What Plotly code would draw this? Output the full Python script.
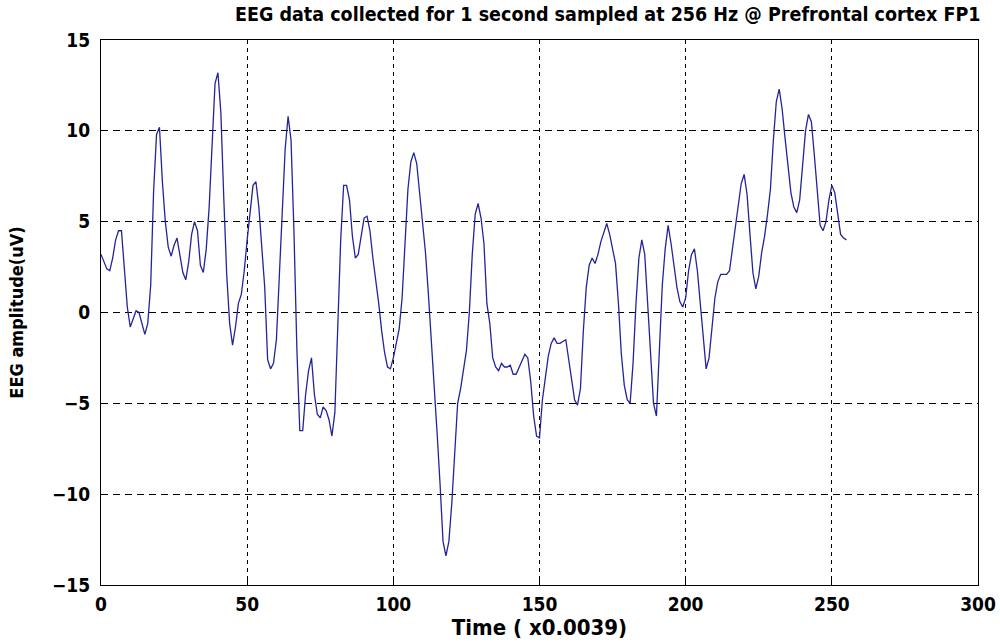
import plotly.graph_objects as go

sample_index = list(range(256))
eeg_uv = [
    3.2, 2.8, 2.4, 2.3, 3.0, 4.0, 4.5, 4.5, 2.5, 0.3,
    -0.8, -0.4, 0.1, 0.0, -0.6, -1.2, -0.6, 1.5, 6.7, 9.8,
    10.2, 7.2, 5.0, 3.6, 3.1, 3.7, 4.1, 3.2, 2.2, 1.8,
    2.8, 4.3, 5.0, 4.5, 2.6, 2.2, 3.5, 5.8, 9.5, 12.6,
    13.2, 11.0, 6.3, 2.1, -0.6, -1.8, -0.8, 0.5, 1.0, 2.3,
    4.0, 5.5, 7.0, 7.2, 5.8, 3.6, 1.4, -2.6, -3.1, -2.8,
    -1.5, 2.0, 5.5, 9.0, 10.8, 9.5, 4.5, -2.0, -6.5, -6.5,
    -4.5, -3.2, -2.5, -4.5, -5.6, -5.8, -5.2, -5.4, -5.9, -6.8,
    -5.5, -1.0, 4.0, 7.0, 7.0, 6.2, 4.2, 3.0, 3.2, 4.2,
    5.2, 5.3, 4.5, 3.0, 1.8, 0.5, -1.0, -2.2, -3.0, -3.1,
    -2.5, -1.7, -0.9, 0.8, 3.5, 6.8, 8.3, 8.8, 8.2, 6.5,
    4.8, 3.3, 1.0, -1.4, -3.9, -6.7, -9.5, -12.6, -13.4, -12.6,
    -10.5, -7.8, -5.0, -4.2, -3.2, -2.1, 0.0, 3.2, 5.4, 6.0,
    5.2, 3.8, 0.5, -0.6, -2.5, -3.0, -3.2, -2.8, -3.0, -3.0,
    -2.9, -3.4, -3.4, -3.0, -2.6, -2.3, -2.5, -3.8, -5.7, -6.8,
    -6.9, -4.8, -3.6, -2.4, -1.7, -1.4, -1.7, -1.7, -1.6, -1.5,
    -2.6, -3.7, -4.8, -5.1, -4.2, -1.0, 1.4, 2.6, 3.0, 2.7,
    3.2, 3.9, 4.4, 4.9, 4.3, 3.5, 2.7, 0.5, -2.3, -4.0,
    -4.8, -5.0, -2.8, 0.5, 3.0, 4.0, 3.2, 0.5, -2.2, -5.0,
    -5.7, -2.5, 1.5, 3.5, 4.8, 3.8, 2.7, 1.4, 0.6, 0.3,
    0.8, 2.3, 3.2, 3.5, 2.3, 0.5, -1.5, -3.1, -2.5, -0.8,
    0.8, 1.7, 2.1, 2.1, 2.1, 2.3, 3.5, 4.7, 6.0, 7.1,
    7.6, 6.5, 4.3, 2.2, 1.3, 2.0, 3.3, 4.2, 5.4, 6.8,
    9.5, 11.6, 12.3, 11.2, 9.6, 8.0, 6.6, 5.8, 5.5, 6.2,
    8.0, 10.0, 10.9, 10.5, 8.7, 6.7, 4.8, 4.5, 5.0, 6.2,
    7.0, 6.6, 5.5, 4.3, 4.1, 4.0,
]
x_ticks = [0, 50, 100, 150, 200, 250, 300]
y_ticks = [-15, -10, -5, 0, 5, 10, 15]

title_text = "EEG data collected for 1 second sampled at 256 Hz @ Prefrontal cortex FP1"
x_title = "Time ( x0.0039)"
y_title = "EEG amplitude(uV)"

FONT = "DejaVu Sans Condensed, Liberation Sans Narrow, Arial Narrow, sans-serif"

fig = go.Figure()
fig.add_trace(go.Scatter(
    x=sample_index, y=eeg_uv, mode="lines",
    line=dict(color="#24249a", width=1.3),
    showlegend=False, hoverinfo="skip",
))

W, H = 1000, 642
ml, mr, mt, mb = 101, 22, 40, 57

axis_common = dict(
    showline=True, linecolor="black", linewidth=1.2, mirror=True,
    ticks="inside", ticklen=6, tickcolor="black",
    showgrid=True, gridcolor="black", gridwidth=1,
    zeroline=False, automargin=False,
    tickfont=dict(family=FONT, size=19, color="black", weight="bold"),
)

fig.update_layout(
    width=W, height=H,
    margin=dict(l=ml, r=mr, t=mt, b=mb),
    paper_bgcolor="white", plot_bgcolor="white",
    xaxis=dict(range=[0, 300], tickvals=x_ticks, griddash="4px,4px",
               ticklabelstandoff=2,
               title=dict(text="<b>" + x_title + "</b>", standoff=5,
                          font=dict(family=FONT, size=22, color="black")),
               **axis_common),
    yaxis=dict(range=[-15, 15], tickvals=y_ticks, griddash="7px,5px",
               ticklabelstandoff=6,
               title=dict(text="<b>" + y_title + "</b>", standoff=23,
                          font=dict(family=FONT, size=18, color="black")),
               **axis_common),
)

plot_w = W - ml - mr
title_center_px = 607
fig.add_annotation(
    text="<b>" + title_text + "</b>",
    xref="paper", yref="paper",
    x=(title_center_px - ml) / plot_w, y=1.0,
    xanchor="center", yanchor="bottom", yshift=12,
    showarrow=False,
    font=dict(family=FONT, size=19.5, color="black"),
)

fig.write_html("out.html", config={"displayModeBar": False},
               post_script="document.body.style.margin='0';")
